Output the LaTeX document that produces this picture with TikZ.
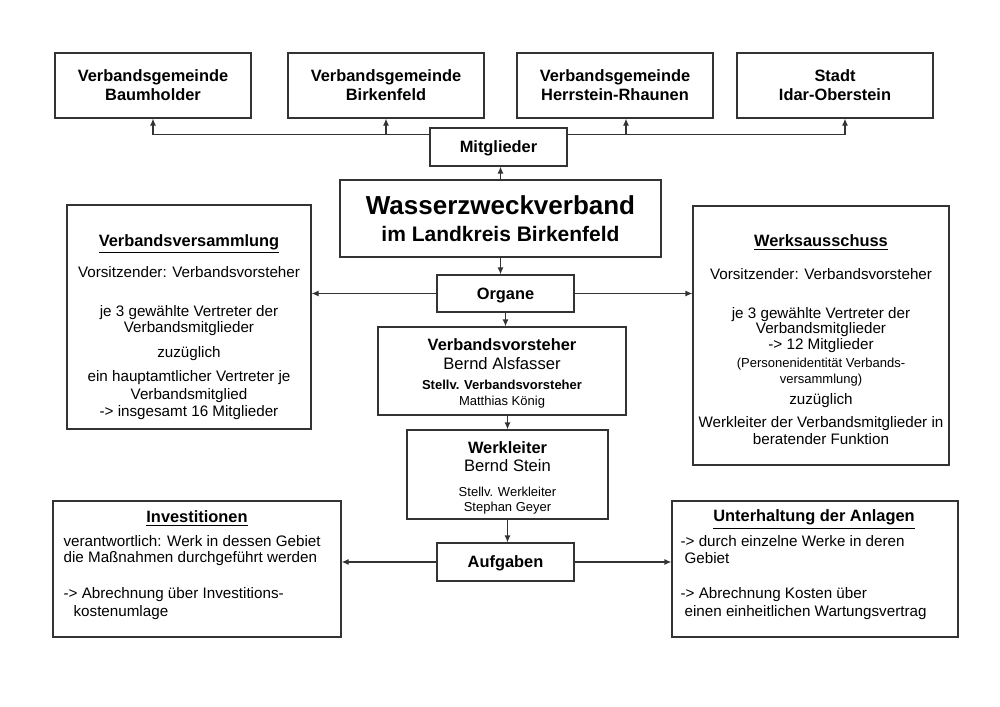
\documentclass[tikz,border=0pt]{standalone}
\usepackage{fontspec}
\setmainfont{Liberation Sans}
\usepackage{tikz}
\usetikzlibrary{arrows.meta}
\definecolor{c1}{HTML}{333333}
\newcommand{\fhead}{\bfseries\fontsize{8.2}{9.5}\selectfont}
\newcommand{\fbody}{\fontsize{7.6}{8}\selectfont}
\newcommand{\fname}{\fontsize{8.3}{9}\selectfont}

\begin{document}
\begin{tikzpicture}[x=0.5pt, y=-0.5pt, line width=0.6pt,
	box/.style={draw=c1, inner sep=0pt, align=center, font=\fhead},
	tag/.style={box, minimum width=68.5pt, minimum height=19pt, text height=6pt, text depth=0.5pt},
	txt/.style={inner sep=0pt, align=center, font=\fbody},
	>={Latex[length=3.5pt,width=3pt]}]
	\useasboundingbox (0,0) rectangle (1000,706);

	\node[box, minimum width=98pt, minimum height=32.5pt] (baum) at (153,85.5) {Verbandsgemeinde\\Baumholder};
	\node[box, minimum width=98pt, minimum height=32.5pt] (birk) at (386,85.5) {Verbandsgemeinde\\Birkenfeld};
	\node[box, minimum width=98pt, minimum height=32.5pt] (herr) at (615,85.5) {Verbandsgemeinde\\Herrstein-Rhaunen};
	\node[box, minimum width=98pt, minimum height=32.5pt] (stadt) at (835,85.5) {Stadt\\Idar-Oberstein};
	\node[tag] (mitgl) at (498.5,147) {Mitglieder};

	\node[box, minimum width=160.5pt, minimum height=38.5pt, font=\bfseries\fontsize{10.5}{13.5}\selectfont] (wzv) at (500.5,218.5)
		{{\fontsize{13}{14}\selectfont Wasserzweckverband}\\im Landkreis Birkenfeld};
	\node[tag, minimum height=18.5pt] (organe) at (505.5,293.5) {Organe};
	\node[box, minimum width=124pt, minimum height=44pt, font=\fontsize{6.5}{8}\selectfont] (vorst) at (502,371)
		{{\fhead\rule{0pt}{8.8pt}Verbandsvorsteher}\\[1.5pt]{\fname Bernd Alsfasser}\\[2pt]{\bfseries Stellv. Verbandsvorsteher}\\Matthias König};
	\node[box, minimum width=100.5pt, minimum height=44.5pt, font=\fontsize{6.5}{7.5}\selectfont] (werkl) at (507.5,474.5)
		{{\fhead\rule{0pt}{9.8pt}Werkleiter}\\[1.5pt]{\fname Bernd Stein}\\[5pt]Stellv. Werkleiter\\Stephan Geyer};
	\node[tag] (aufg) at (505.5,562) {Aufgaben};

	% side boxes
	\node[box, minimum width=122pt, minimum height=112pt] (vv) at (189,317) {};
	\node[box, minimum width=128pt, minimum height=129.5pt] (wa) at (821,335.5) {};
	\node[box, minimum width=144pt, minimum height=68pt] (inv) at (197,569) {};
	\node[box, minimum width=143pt, minimum height=68pt] (unt) at (815,569) {};

	\node[txt, anchor=north] (vvtext) at (189,234)
		{{\fhead\underline{Verbandsversammlung}}\\[5.5pt]
		Vorsitzender: Verbandsvorsteher\\[11.5pt]
		je 3 gewählte Vertreter der\\
		Verbandsmitglieder\\[4.5pt]
		zuzüglich\\[4pt]
		ein hauptamtlicher Vertreter je\\[1pt]
		Verbandsmitglied\\[0.5pt]
		-> insgesamt 16 Mitglieder};
	\node[txt, anchor=north] (watext) at (821,234)
		{{\fhead\underline{Werksausschuss}}\\[8.5pt]
		Vorsitzender: Verbandsvorsteher\\[11.5pt]
		je 3 gewählte Vertreter der\\[-0.5pt]
		Verbandsmitglieder\\
		-> 12 Mitglieder\\[1pt]
		{\fontsize{6.5}{8}\selectfont (Personenidentität Verbands-}\\
		{\fontsize{6.5}{8}\selectfont versammlung)}\\[2.5pt]
		zuzüglich\\[3.5pt]
		Werkleiter der Verbandsmitglieder in\\[0.5pt]
		beratender Funktion};

	\node[txt, font=\fhead] (invhead) at (197,519) {\underline{Investitionen}};
	\node[txt, anchor=north west, align=left] (invtext) at (63,535)
		{verantwortlich: Werk in dessen Gebiet\\
		die Maßnahmen durchgeführt werden\\[10pt]
		-> Abrechnung über Investitions-\\[1pt]
		\hspace*{5pt}kostenumlage};
	\node[txt, font=\fhead] (unthead) at (814,519.5) {\underline{Unterhaltung der Anlagen}};
	\node[txt, anchor=north west, align=left] (unttext) at (680,535)
		{-> durch einzelne Werke in deren\\[0.5pt]
		\hspace*{2pt}Gebiet\\[9.5pt]
		-> Abrechnung Kosten über\\[1pt]
		\hspace*{2pt}einen einheitlichen Wartungsvertrag};

	% connectors
	\coordinate (ml) at ([yshift=-3.5pt]mitgl.north west);
	\coordinate (mr) at ([yshift=-3.5pt]mitgl.north east);
	\coordinate (hs) at ([xshift=5.5pt]herr.south);
	\coordinate (ss) at ([xshift=5pt]stadt.south);
	\draw[->, c1] (wzv.north) -- (wzv.north |- mitgl.south);
	\draw[->, c1] (ml) -| (baum.south);
	\draw[->, c1] (ml -| birk.south) -- (birk.south);
	\draw[->, c1] (mr) -| (ss);
	\draw[->, c1] (mr -| hs) -- (hs);
	\draw[->, c1] (wzv.south) -- (wzv.south |- organe.north);
	\draw[->, c1] (organe.west) -- (organe.west -| vv.east);
	\draw[->, c1] (organe.east) -- (organe.east -| wa.west);
	\draw[->, c1] (organe.south) -- (organe.south |- vorst.north);
	\draw[->, c1] (werkl.north |- vorst.south) -- (werkl.north);
	\draw[->, c1] (werkl.south) -- (werkl.south |- aufg.north);
	\draw[->, c1] (aufg.west) -- (aufg.west -| inv.east);
	\draw[->, c1] (aufg.east) -- (aufg.east -| unt.west);
\end{tikzpicture}
\end{document}
